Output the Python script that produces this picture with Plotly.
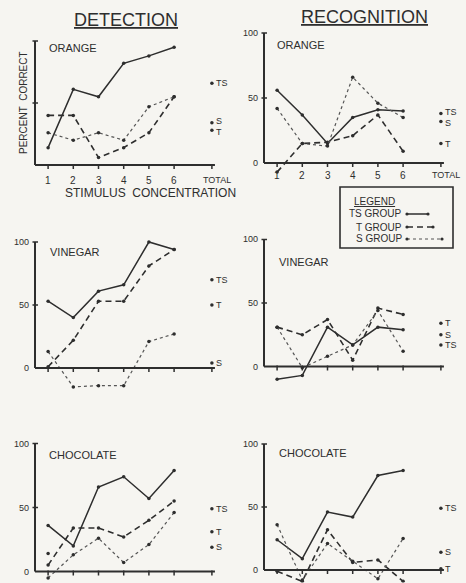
import plotly.graph_objects as go

W, H = 466, 583
INK = "#2e2e2e"
DOT_INK = "#555555"
BG = "#f6f5f1"
FONT = "Liberation Sans"

# ---------------- data ----------------
conc = [1, 2, 3, 4, 5, 6]
x_tick_labels = ["1", "2", "3", "4", "5", "6"]
total_label = "TOTAL"
y_tick_vals = [0, 50, 100]
y_tick_labels = ["0", "50", "100"]
groups = ["TS", "T", "S"]
panel_titles = ["ORANGE", "ORANGE", "VINEGAR", "VINEGAR", "CHOCOLATE", "CHOCOLATE"]

# Detection - orange
det_orange_ts = [14, 61, 55, 82, 88, 95]
det_orange_t = [40, 40, 6, 14, 26, 55]
det_orange_s = [26, 20, 26, 20, 47, 55]
det_orange_total = [66, 28, 34]          # TS, T, S
# Recognition - orange
rec_orange_ts = [56, 37, 15, 35, 41, 40]
rec_orange_t = [-7, 15, 16, 21, 37, 9]
rec_orange_s = [42, 15, 13, 66, 46, 35]
rec_orange_total = [38, 15, 32]
# Detection - vinegar
det_vinegar_ts = [53, 40, 61, 66, 100, 94]
det_vinegar_t = [1, 22, 53, 53, 81, 94]
det_vinegar_s = [13, -15, -14, -14, 21, 27]
det_vinegar_total = [70, 50, 4]
# Recognition - vinegar
rec_vinegar_ts = [-10, -7, 31, 17, 31, 29]
rec_vinegar_t = [31, 25, 37, 5, 46, 41]
rec_vinegar_s = [31, -1, 8, 17, 44, 12]
rec_vinegar_total = [17, 34, 25]
# Detection - chocolate
det_choc_ts = [36, 20, 66, 74, 57, 79]
det_choc_t = [5, 34, 34, 27, 40, 55]
det_choc_s = [-5, 13, 26, 7, 21, 46]
det_choc_total = [49, 31, 19]
det_choc_stray_x = [1]
det_choc_stray_y = [14]
# Recognition - chocolate
rec_choc_ts = [24, 9, 46, 42, 75, 79]
rec_choc_t = [-1, -9, 32, 6, 8, -9]
rec_choc_s = [36, -8, 21, 7, -7, 25]
rec_choc_total = [49, 1, 14]

panel_series = [
    (det_orange_ts, det_orange_t, det_orange_s, det_orange_total),
    (rec_orange_ts, rec_orange_t, rec_orange_s, rec_orange_total),
    (det_vinegar_ts, det_vinegar_t, det_vinegar_s, det_vinegar_total),
    (rec_vinegar_ts, rec_vinegar_t, rec_vinegar_s, rec_vinegar_total),
    (det_choc_ts, det_choc_t, det_choc_s, det_choc_total),
    (rec_choc_ts, rec_choc_t, rec_choc_s, rec_choc_total),
]

# ---------------- geometry (pixels) ----------------
TOTAL_X = 7.5
AX_X = 0.48          # x position of the vertical axis
X_LO, X_HI = 0.38, 7.72
XSP = 25.2           # px per concentration step
Y_HI = 108
geom = [
    dict(left=35, zero=165, s=1.24, lo=-6, ylab=False, xlab=True, tpx=(47, 48),
         tshift=[0, -2, 2]),
    dict(left=264, zero=163, s=1.30, lo=-10, ylab=True, xlab=True, tpx=(275, 45),
         tshift=[1.5, 0, -1.5]),
    dict(left=35, zero=368, s=1.26, lo=-18, ylab=True, xlab=False, tpx=(48, 252),
         tshift=[0, 0, 0]),
    dict(left=264, zero=366.5, s=1.27, lo=-13, ylab=True, xlab=False, tpx=(277, 262),
         tshift=[0, 0, 0]),
    dict(left=35, zero=571.5, s=1.28, lo=-8, ylab=True, xlab=False, tpx=(47, 455),
         tshift=[0, 0, 0]),
    dict(left=264, zero=570, s=1.26, lo=-10, ylab=True, xlab=False, tpx=(277, 453),
         tshift=[0, 0, 0]),
]


def px(x, y):
    return x / W, 1 - y / H


styles = [
    dict(color=INK, width=1.5, dash="solid"),
    dict(color=INK, width=1.6, dash="6px,4px"),
    dict(color=DOT_INK, width=1.2, dash="dot"),
]

fig = go.Figure()
shapes = []
annotations = []
layout_axes = {}

for i, (g, series) in enumerate(zip(geom, panel_series)):
    n = i + 1
    xa = "x" if n == 1 else f"x{n}"
    ya = "y" if n == 1 else f"y{n}"
    xd0 = (g["left"] + (X_LO - AX_X) * XSP) / W
    xd1 = (g["left"] + (X_HI - AX_X) * XSP) / W
    yd_top = 1 - (g["zero"] - Y_HI * g["s"]) / H
    yd_bot = 1 - (g["zero"] - g["lo"] * g["s"]) / H
    layout_axes["xaxis" if n == 1 else f"xaxis{n}"] = dict(
        domain=[xd0, xd1], range=[X_LO, X_HI], visible=False,
        anchor=ya, fixedrange=True)
    layout_axes["yaxis" if n == 1 else f"yaxis{n}"] = dict(
        domain=[yd_bot, yd_top], range=[g["lo"], Y_HI], visible=False,
        anchor=xa, fixedrange=True)

    ts, t, s, tot = series
    for vals, st in zip((ts, t, s), styles):
        fig.add_trace(go.Scatter(
            x=conc, y=vals, mode="lines+markers", xaxis=xa, yaxis=ya,
            line=dict(color=st["color"], width=st["width"], dash=st["dash"]),
            marker=dict(size=3.5, color=INK), showlegend=False,
            hoverinfo="skip"))
    # totals
    fig.add_trace(go.Scatter(
        x=[TOTAL_X] * 3, y=tot, mode="markers", xaxis=xa, yaxis=ya,
        cliponaxis=False, marker=dict(size=3.5, color=INK),
        showlegend=False, hoverinfo="skip"))
    for lab, val, sh in zip(groups, tot, g["tshift"]):
        annotations.append(dict(
            x=TOTAL_X, y=val, xref=xa, yref=ya, text=lab, showarrow=False,
            xanchor="left", yanchor="middle", xshift=2, yshift=sh,
            font=dict(family=FONT, size=9, color=INK)))
    if n == 5:
        fig.add_trace(go.Scatter(
            x=det_choc_stray_x, y=det_choc_stray_y, mode="markers",
            xaxis=xa, yaxis=ya, marker=dict(size=3.5, color=INK),
            showlegend=False, hoverinfo="skip"))

    # axis lines
    shapes.append(dict(type="line", xref=xa, yref=ya, x0=AX_X, x1=7.62,
                       y0=0, y1=0, line=dict(color=INK, width=2)))
    shapes.append(dict(type="line", xref=xa, yref=ya, x0=AX_X, x1=AX_X,
                       y0=0, y1=100, line=dict(color=INK, width=2)))
    # x ticks
    tick_len = 4 / g["s"]
    for xv in conc + [TOTAL_X]:
        shapes.append(dict(type="line", xref=xa, yref=ya, x0=xv, x1=xv,
                           y0=1 / g["s"], y1=-tick_len,
                           line=dict(color=INK, width=1.5)))
    # y ticks
    for yv in y_tick_vals[1:]:
        shapes.append(dict(type="line", xref=xa, yref=ya,
                           x0=AX_X - 0.16, x1=AX_X + 0.12, y0=yv, y1=yv,
                           line=dict(color=INK, width=1.5)))
    if g["ylab"]:
        for yv, lab in zip(y_tick_vals, y_tick_labels):
            annotations.append(dict(
                x=AX_X, y=yv, xref=xa, yref=ya, text=lab, showarrow=False,
                xanchor="right", xshift=-4, yanchor="middle",
                font=dict(family=FONT, size=9, color=INK)))
    if g["xlab"]:
        for xv, lab in zip(conc, x_tick_labels):
            annotations.append(dict(
                x=xv, y=0, xref=xa, yref=ya, text=lab, showarrow=False,
                xanchor="center", yanchor="middle",
                yshift=-15 if n == 1 else -12,
                font=dict(family=FONT, size=10, color=INK)))
        annotations.append(dict(
            x=TOTAL_X + 0.2, y=0, xref=xa, yref=ya, text=total_label,
            showarrow=False, xanchor="center", yanchor="middle",
            yshift=-15 if n == 1 else -12,
            font=dict(family=FONT, size=9, color=INK)))
    tx, ty = px(*g["tpx"])
    annotations.append(dict(
        x=tx, y=ty, xref="paper", yref="paper", text=panel_titles[i],
        showarrow=False, xanchor="left", yanchor="middle",
        font=dict(family=FONT, size=11, color=INK)))

# headings
for text, (hx, hy) in [("<u>DETECTION</u>", (126, 20)),
                       ("<u>RECOGNITION</u>", (364, 17))]:
    x, y = px(hx, hy)
    annotations.append(dict(x=x, y=y, xref="paper", yref="paper", text=text,
                            showarrow=False, xanchor="center", yanchor="middle",
                            font=dict(family=FONT, size=18, color=INK)))
x, y = px(150, 193)
annotations.append(dict(x=x, y=y, xref="paper", yref="paper",
                        text="STIMULUS  CONCENTRATION", showarrow=False,
                        xanchor="center", yanchor="middle",
                        font=dict(family=FONT, size=12, color=INK)))
x, y = px(24, 103)
annotations.append(dict(x=x, y=y, xref="paper", yref="paper",
                        text="PERCENT  CORRECT", showarrow=False, textangle=-90,
                        xanchor="center", yanchor="middle",
                        font=dict(family=FONT, size=10, color=INK)))

# legend box
x0, y0 = px(340, 187)
x1, y1 = px(453, 248)
shapes.append(dict(type="rect", xref="paper", yref="paper", x0=x0, x1=x1,
                   y0=y1, y1=y0, line=dict(color=INK, width=1.6)))
x, y = px(352, 201)
annotations.append(dict(x=x, y=y, xref="paper", yref="paper",
                        text="<u>LEGEND</u>", showarrow=False, xanchor="left",
                        yanchor="middle",
                        font=dict(family=FONT, size=10, color=INK)))
legend_rows = [("TS GROUP", 214, 428), ("T GROUP", 227, 433), ("S GROUP", 239, 442)]
for (lab, ly, lend), st in zip(legend_rows, styles):
    x, y = px(404, ly)
    annotations.append(dict(x=x, y=y, xref="paper", yref="paper", text=lab,
                            showarrow=False, xanchor="right", yanchor="middle",
                            font=dict(family=FONT, size=10, color=INK)))
    xa0, ya0 = px(407, ly)
    xa1, _ = px(lend, ly)
    shapes.append(dict(type="line", xref="paper", yref="paper", x0=xa0, x1=xa1,
                       y0=ya0, y1=ya0,
                       line=dict(color=st["color"], width=st["width"], dash=st["dash"])))
    for ex in (407, lend):
        cx, cy = px(ex, ly)
        r = 1.6
        shapes.append(dict(type="circle", xref="paper", yref="paper",
                           x0=cx - r / W, x1=cx + r / W, y0=cy - r / H, y1=cy + r / H,
                           fillcolor=INK, line=dict(width=0)))

fig.update_layout(
    width=W, height=H, margin=dict(l=0, r=0, t=0, b=0),
    paper_bgcolor=BG, plot_bgcolor="rgba(0,0,0,0)",
    shapes=shapes, annotations=annotations, showlegend=False,
    font=dict(family=FONT, color=INK), **layout_axes)

fig.write_html(
    "out.html",
    config={"displayModeBar": False, "staticPlot": True},
    post_script="document.body.style.margin='0';document.body.style.padding='0';"
                "document.body.style.background='" + BG + "';")
